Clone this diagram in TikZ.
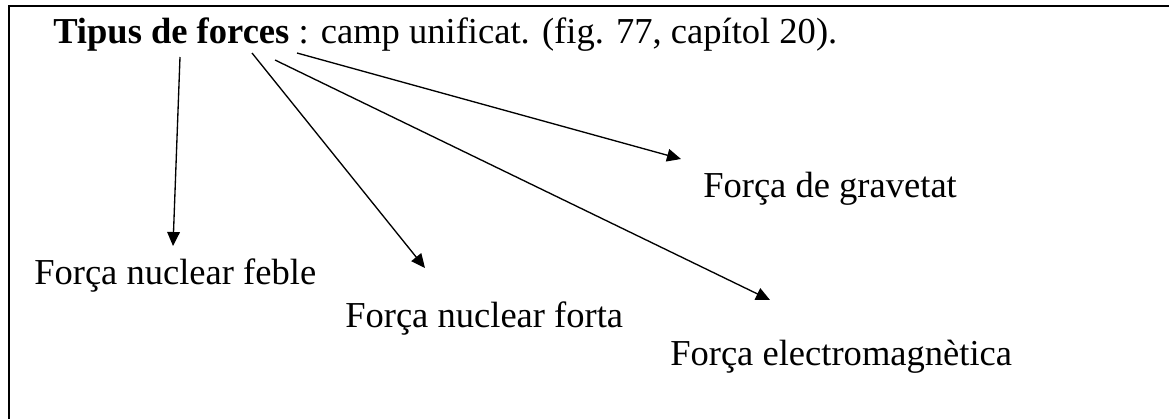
\documentclass[tikz,border=0pt]{standalone}
\usepackage{fontspec}
\setmainfont{Liberation Serif}
\usetikzlibrary{arrows.meta}
\begin{document}
\begin{tikzpicture}[x=0.75pt,y=-0.75pt,
  lbl/.style={anchor=base west,inner sep=0pt,font=\fontsize{27.4}{32}\selectfont},
  conn/.style={line width=1pt,-{Triangle[length=10.5pt,width=9.5pt]}},
  frame/.style={line width=1.5pt}]
\useasboundingbox (0,0) rectangle (1169,419);
% open frame: only the left and top edges fall inside the page
\draw[frame] (9,419) -- (9,6) -- (1169,6);

\node[lbl] (title) at (53,43) {\textbf{Tipus de forces} : camp unificat. (fig. 77, capítol 20).};
\node[lbl] (feble) at (34,284) {Força nuclear feble};
\node[lbl] (forta) at (345,327) {Força nuclear forta};
\node[lbl] (grav)  at (703,197) {Força de gravetat};
\node[lbl] (elec)  at (670,365) {Força electromagnètica};

% start points under the title and arrow tips above the labels
\coordinate (s1) at (180,57);
\coordinate (s2) at (252,53);
\coordinate (s3) at (275,60);
\coordinate (s4) at (297,53);
\coordinate (e1) at (173,246);
\coordinate (e2) at (425,268);
\coordinate (e3) at (770,300);
\coordinate (e4) at (681,159);

\draw[conn] (s1) -- (e1);
\draw[conn] (s2) -- (e2);
\draw[conn] (s3) -- (e3);
\draw[conn] (s4) -- (e4);
\end{tikzpicture}
\end{document}
